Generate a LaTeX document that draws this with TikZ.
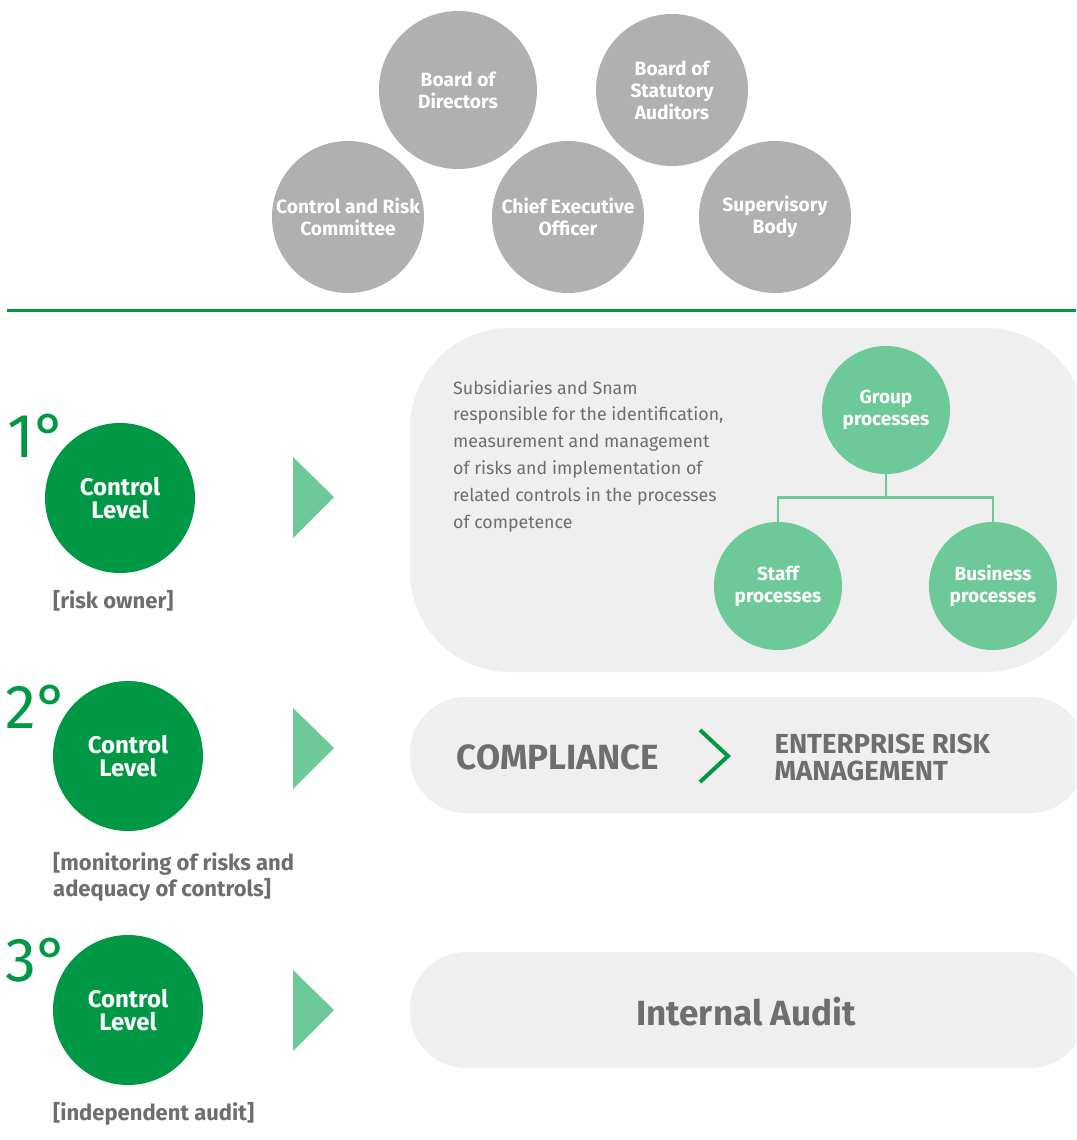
\documentclass[tikz,border=0pt]{standalone}
\usepackage{fontspec}
\setmainfont{Fira Sans}
\usetikzlibrary{positioning}
\definecolor{snamgreen}{HTML}{009845}
\definecolor{leafgreen}{HTML}{6DC998}
\definecolor{organgray}{HTML}{B0B0B0}
\definecolor{panelgray}{HTML}{EFEFEF}
\definecolor{textgray}{HTML}{6E6E6E}

\begin{document}
\begin{tikzpicture}[x=1pt,y=-1pt,on grid,
    organ/.style={circle,fill=organgray,text=white,minimum size=152pt,inner sep=0pt,align=center,font=\bfseries\fontsize{19.2}{22}\selectfont},
    level/.style={circle,fill=snamgreen,text=white,minimum size=150pt,inner sep=0pt,align=center,font=\bfseries\fontsize{24}{23}\selectfont},
    degree/.style={text=snamgreen,font=\fontsize{62}{62}\selectfont},
    role/.style={text=textgray,anchor=north west,inner sep=0pt,align=left,font=\bfseries\fontsize{22}{26}\selectfont},
    proc/.style={circle,fill=leafgreen,text=white,minimum size=128pt,inner sep=0pt,align=center,font=\bfseries\fontsize{19}{22}\selectfont},
    panel/.style={fill=panelgray},
    pointer/.style={fill=leafgreen},
    tree/.style={draw=leafgreen,line width=2.8pt},
    big/.style={text=textgray,font=\bfseries\fontsize{35}{28}\selectfont}]
  \clip (0,0) rectangle (1076,1140);
  \fill[white] (0,0) rectangle (1076,1140);

  % governing bodies
  \node[organ,minimum size=158pt] (bod) at (458,90) {Board of\\Directors};
  \node[organ] (bsa) at (672,90) {Board of\\Statutory\\Auditors};
  \node[organ] (crc) at (348,217) {Control and Risk\\Committee};
  \node[organ] (ceo) [right=220pt of crc] {Chief Executive\\Officer};
  \node[organ] (sb) [right=207pt of ceo] {Supervisory\\Body};
  \draw[snamgreen,line width=3pt] (7,310) -- (1076,310);

  % panels
  \fill[panel,rounded corners=100pt] (410,328) rectangle (1086,672);
  \fill[panel,rounded corners=56pt] (410,697) rectangle (1086,813);
  \fill[panel,rounded corners=56pt] (410,952) rectangle (1086,1068);

  % 1st level
  \node[level] (l1) at (120,498) {Control\\Level};
  \node[degree] (d1) at (37,436) {1°};
  \node[role] (r1) at (53,590) {[risk owner]};
  \fill[pointer] (293,457) -- (334,497) -- (293,538) -- cycle;
  \node[text=textgray,anchor=north west,inner sep=0pt,align=left,
        font=\fontsize{17.8}{26.8}\selectfont] (owner) at (453,380)
    {Subsidiaries and Snam\\responsible for the identification,\\measurement and management\\of risks and implementation of\\related controls in the processes\\of competence};
  \node[proc] (grp) at (886,410) {Group\\processes};
  \node[proc] (staff) at (778,586) {Staff\\processes};
  \node[proc] (biz) [right=215pt of staff] {Business\\processes};
  \draw[tree] (grp.south) -- ++(0,23) -| (staff.north);
  \draw[tree] (grp.south) -- ++(0,23) -| (biz.north);

  % 2nd level
  \node[level] (l2) at (128,756) {Control\\Level};
  \node[degree] (d2) at (37,707) {2°};
  \node[role] (r2) at (53,852) {[monitoring of risks and\\adequacy of controls]};
  \fill[pointer] (293,708) -- (334,748) -- (293,789) -- cycle;
  \node[big] (comp) at (558,757) {COMPLIANCE};
  \draw[snamgreen,line width=4pt] (700,730) -- (728,756) -- (700,782);
  \node[big,anchor=west,align=left,font=\bfseries\fontsize{27.5}{27}\selectfont] (erm) at (771,757) {ENTERPRISE RISK\\MANAGEMENT};

  % 3rd level
  \node[level] (l3) at (128,1010) {Control\\Level};
  \node[degree] (d3) at (37,960) {3°};
  \node[role] (r3) at (53,1102) {[independent audit]};
  \fill[pointer] (293,970) -- (334,1010) -- (293,1051) -- cycle;
  \node[big] (ia) at (746,1012) {Internal Audit};
\end{tikzpicture}
\end{document}
